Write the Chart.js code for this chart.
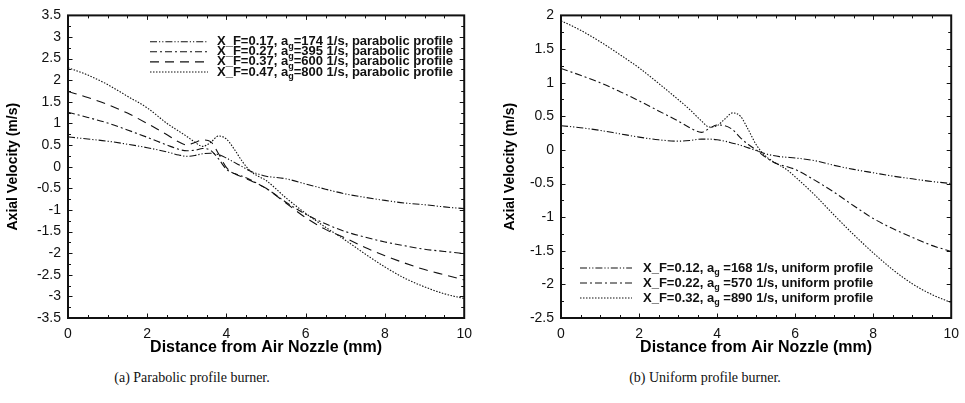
<!DOCTYPE html>
<html lang="en">
<head>
<meta charset="UTF-8">
<title>Axial Velocity</title>
<script src="https://cdn.jsdelivr.net/npm/chart.js"></script>
<style>
    body { margin: 0; background: #fff; width: 965px; height: 403px; position: relative; overflow: hidden; }
    canvas { position: absolute; top: 0; }
    #graficoA { left: 0; }
    #graficoB { left: 497px; }
    .legenda { position: absolute; top: 370px; width: 220px; text-align: center;
               font-family: "Liberation Serif", "DejaVu Serif", serif; font-size: 14px; color: #111; }
</style>
</head>
<body>
    <canvas id="graficoA" width="480" height="360"></canvas>
    <canvas id="graficoB" width="470" height="360"></canvas>
    <div class="legenda" style="left: 82px;">(a) Parabolic profile burner.</div>
    <div class="legenda" style="left: 595px;">(b) Uniform profile burner.</div>

<script>
    // ticks
    var xTicks = [0, 2, 4, 6, 8, 10];
    var yTicksA = [3.5, 3, 2.5, 2, 1.5, 1, 0.5, 0, -0.5, -1, -1.5, -2, -2.5, -3, -3.5];
    var yTicksB = [2, 1.5, 1, 0.5, 0, -0.5, -1, -1.5, -2, -2.5];

    // (a) queimador parabolico
    var xfA = ['0.17', '0.27', '0.37', '0.47'];
    var agA = [174, 395, 600, 800];
    var xA = [0, 0.5, 1, 1.5, 2, 2.5, 2.8, 3.0, 3.2, 3.4, 3.6, 3.8, 4.0, 4.2, 4.4, 4.6, 4.8, 5.0, 5.5, 6, 6.5, 7, 7.5, 8, 8.5, 9, 9.5, 10];
    var velA017 = [0.69, 0.64, 0.59, 0.52, 0.44, 0.34, 0.27, 0.24, 0.26, 0.30, 0.31, 0.28, 0.20, 0.10, 0.00, -0.10, -0.17, -0.22, -0.28, -0.40, -0.52, -0.63, -0.71, -0.78, -0.84, -0.88, -0.93, -0.97];
    var velA027 = [1.26, 1.14, 1.01, 0.85, 0.68, 0.50, 0.40, 0.37, 0.38, 0.42, 0.38, 0.18, -0.06, -0.16, -0.22, -0.30, -0.40, -0.50, -0.82, -1.10, -1.32, -1.50, -1.63, -1.74, -1.83, -1.91, -1.96, -2.01];
    var velA037 = [1.74, 1.60, 1.44, 1.24, 1.00, 0.74, 0.57, 0.50, 0.56, 0.62, 0.58, 0.30, -0.02, -0.16, -0.24, -0.32, -0.40, -0.50, -0.84, -1.18, -1.45, -1.65, -1.87, -2.06, -2.23, -2.38, -2.50, -2.62];
    var velA047 = [2.29, 2.12, 1.90, 1.63, 1.36, 1.00, 0.82, 0.70, 0.57, 0.47, 0.56, 0.71, 0.64, 0.40, 0.12, -0.10, -0.22, -0.32, -0.72, -1.08, -1.40, -1.70, -2.02, -2.32, -2.58, -2.78, -2.94, -3.05];

    // (b) queimador uniforme
    var xfB = ['0.12', '0.22', '0.32'];
    var agB = [168, 570, 890];
    var xB = [0, 0.5, 1, 1.5, 2, 2.5, 3, 3.3, 3.6, 3.8, 4.0, 4.2, 4.4, 4.6, 4.8, 5.0, 5.2, 5.4, 5.6, 5.8, 6, 6.5, 7, 7.5, 8, 8.5, 9, 9.5, 10];
    var velB012 = [0.36, 0.33, 0.29, 0.24, 0.19, 0.15, 0.13, 0.14, 0.16, 0.16, 0.15, 0.13, 0.10, 0.07, 0.03, -0.01, -0.05, -0.08, -0.10, -0.11, -0.12, -0.16, -0.23, -0.29, -0.34, -0.39, -0.43, -0.47, -0.50];
    var velB022 = [1.21, 1.11, 1.00, 0.87, 0.73, 0.58, 0.43, 0.33, 0.26, 0.32, 0.37, 0.36, 0.30, 0.18, 0.08, 0.00, -0.09, -0.17, -0.22, -0.25, -0.29, -0.45, -0.63, -0.83, -1.02, -1.17, -1.30, -1.42, -1.51];
    var velB032 = [1.92, 1.78, 1.61, 1.42, 1.22, 0.99, 0.75, 0.60, 0.43, 0.34, 0.36, 0.46, 0.55, 0.50, 0.30, 0.08, -0.07, -0.16, -0.23, -0.30, -0.40, -0.67, -0.97, -1.26, -1.53, -1.78, -1.99, -2.15, -2.27];

    var fonte = '"Liberation Sans", Arial, sans-serif';
    var traco2pontos = [7, 2, 1.2, 2, 1.2, 2];
    var tracoPonto = [7, 3, 2, 3];
    var tracejado = [9, 6];
    var pontilhado = [1.5, 1.5];

    function serie(label, xs, ys, dash) {
        return {
            label: label,
            data: xs.map(function (x, i) { return { x: x, y: ys[i] }; }),
            borderDash: dash,
            borderColor: '#111',
            borderWidth: 1.1,
            pointRadius: 0,
            fill: false,
            cubicInterpolationMode: 'monotone'
        };
    }

    // moldura com ticks para dentro nos quatro lados
    var moldura = {
        id: 'moldura',
        afterDraw: function (chart) {
            var ctx = chart.ctx, a = chart.chartArea, x = chart.scales.x, y = chart.scales.y;
            ctx.save();
            ctx.strokeStyle = '#111';
            ctx.lineWidth = 1;
            ctx.beginPath();
            for (var v = x.min; v <= x.max + 1e-9; v += 0.5) {
                var px = Math.round(x.getPixelForValue(v)) + 0.5;
                var t = Math.abs(v % 2) < 1e-9 ? 4.5 : 3;
                ctx.moveTo(px, a.bottom); ctx.lineTo(px, a.bottom - t);
                ctx.moveTo(px, a.top); ctx.lineTo(px, a.top + t);
            }
            for (var w = y.min; w <= y.max + 1e-9; w += 0.25) {
                var py = Math.round(y.getPixelForValue(w)) + 0.5;
                var t2 = Math.abs(w % 0.5) < 1e-9 ? 4.5 : 3;
                ctx.moveTo(a.left, py); ctx.lineTo(a.left + t2, py);
                ctx.moveTo(a.right, py); ctx.lineTo(a.right - t2, py);
            }
            ctx.stroke();
            ctx.lineWidth = 2;
            ctx.strokeRect(a.left, a.top, a.right - a.left, a.bottom - a.top);
            ctx.restore();
        }
    };

    // legenda dentro da area do grafico, com subscrito em a_g
    var legendaInterna = {
        id: 'legendaInterna',
        afterDatasetsDraw: function (chart, args, opts) {
            var ctx = chart.ctx;
            ctx.save();
            chart.data.datasets.forEach(function (ds, i) {
                var yy = opts.y0 + i * opts.dy;
                ctx.strokeStyle = '#111';
                ctx.lineWidth = 1.1;
                ctx.setLineDash(ds.borderDash);
                ctx.beginPath();
                ctx.moveTo(opts.x0, yy);
                ctx.lineTo(opts.x1, yy);
                ctx.stroke();
                ctx.setLineDash([]);

                var partes = ds.label.split('a_g');
                ctx.fillStyle = '#111';
                ctx.textBaseline = 'middle';
                ctx.font = 'bold ' + opts.size + 'px ' + fonte;
                var xt = opts.xt;
                ctx.fillText(partes[0] + 'a', xt, yy);
                xt += ctx.measureText(partes[0] + 'a').width;
                ctx.font = 'bold ' + (opts.size - 4) + 'px ' + fonte;
                ctx.fillText('g', xt, yy + 5);
                xt += ctx.measureText('g').width;
                ctx.font = 'bold ' + opts.size + 'px ' + fonte;
                ctx.fillText(partes[1], xt, yy);
            });
            ctx.restore();
        }
    };

    function criarGrafico(id, datasets, ticksY, minY, maxY, larguraY, padDir, legenda) {
        return new Chart(document.getElementById(id), {
            type: 'line',
            data: { datasets: datasets },
            options: {
                responsive: false,
                animation: false,
                devicePixelRatio: 1,
                layout: { padding: { top: 12, right: padDir, left: 0, bottom: 0 } },
                scales: {
                    x: {
                        type: 'linear', min: 0, max: 10,
                        grid: { display: false, drawTicks: false }, border: { display: false },
                        afterBuildTicks: function (s) { s.ticks = xTicks.map(function (v) { return { value: v }; }); },
                        afterFit: function (s) { s.height = 42; },
                        ticks: { padding: 8, color: '#111', autoSkip: false, maxRotation: 0,
                                 font: { family: fonte, size: 14 },
                                 callback: function (v) { return String(v); } },
                        title: { display: true, text: 'Distance from Air Nozzle (mm)', color: '#000',
                                 font: { family: fonte, size: 16, weight: 'bold' }, padding: { top: 0, bottom: 3 } }
                    },
                    y: {
                        type: 'linear', min: minY, max: maxY,
                        grid: { display: false, drawTicks: false }, border: { display: false },
                        afterBuildTicks: function (s) { s.ticks = ticksY.map(function (v) { return { value: v }; }); },
                        afterFit: function (s) { s.width = larguraY; },
                        ticks: { padding: 7, color: '#111', autoSkip: false,
                                 font: { family: fonte, size: 14 },
                                 callback: function (v) { return String(v); } },
                        title: { display: true, text: 'Axial Velocity (m/s)', color: '#000',
                                 font: { family: fonte, size: 14, weight: 'bold' }, padding: { top: 5, bottom: 0 } }
                    }
                },
                plugins: {
                    legend: { display: false },
                    tooltip: { enabled: false },
                    legendaInterna: legenda
                }
            },
            plugins: [moldura, legendaInterna]
        });
    }

    var seriesA = [
        serie('X_F=' + xfA[0] + ', a_g=' + agA[0] + ' 1/s, parabolic profile', xA, velA017, traco2pontos),
        serie('X_F=' + xfA[1] + ', a_g=' + agA[1] + ' 1/s, parabolic profile', xA, velA027, tracoPonto),
        serie('X_F=' + xfA[2] + ', a_g=' + agA[2] + ' 1/s, parabolic profile', xA, velA037, tracejado),
        serie('X_F=' + xfA[3] + ', a_g=' + agA[3] + ' 1/s, parabolic profile', xA, velA047, pontilhado)
    ];
    var seriesB = [
        serie('X_F=' + xfB[0] + ', a_g =' + agB[0] + ' 1/s, uniform profile', xB, velB012, traco2pontos),
        serie('X_F=' + xfB[1] + ', a_g =' + agB[1] + ' 1/s, uniform profile', xB, velB022, tracoPonto),
        serie('X_F=' + xfB[2] + ', a_g =' + agB[2] + ' 1/s, uniform profile', xB, velB032, pontilhado)
    ];

    criarGrafico('graficoA', seriesA, yTicksA, -3.5, 3.5, 68, 15,
        { x0: 150, x1: 208, xt: 217, y0: 41.7, dy: 10.1, size: 13 });
    criarGrafico('graficoB', seriesB, yTicksB, -2.5, 2, 64, 9,
        { x0: 83, x1: 135, xt: 146, y0: 268, dy: 15, size: 13 });
</script>
</body>
</html>
